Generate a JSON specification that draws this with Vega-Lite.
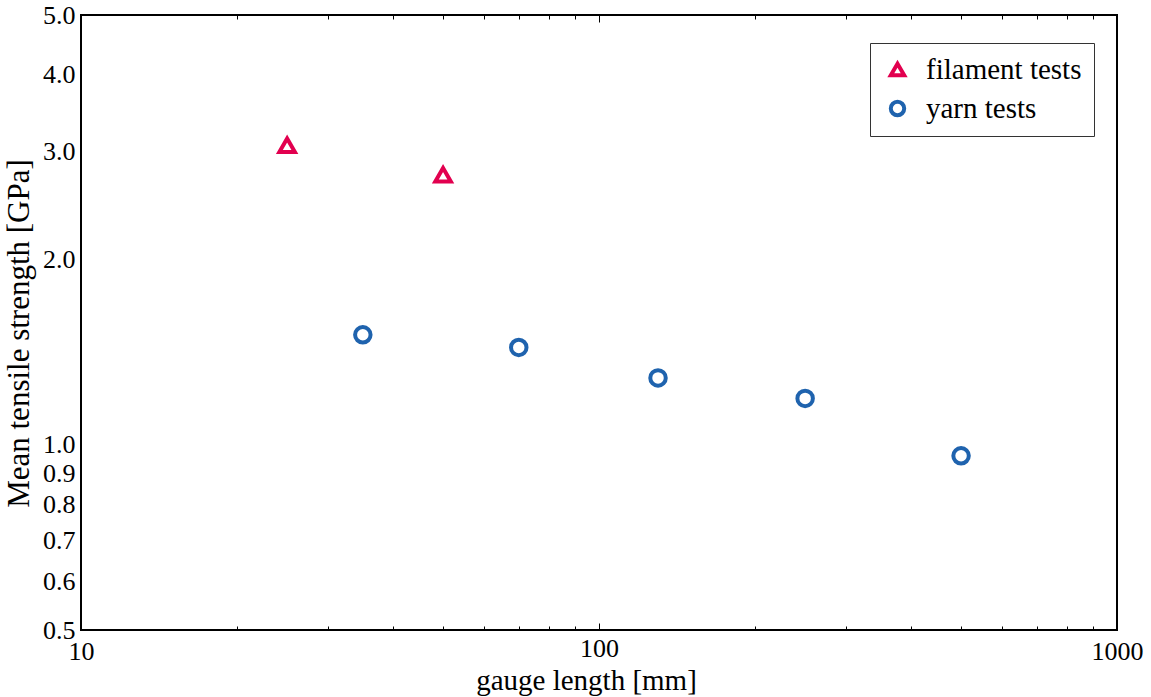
{
  "$schema": "https://vega.github.io/schema/vega-lite/v6.json",
  "autosize": {"type": "none"},
  "padding": {"left": 81, "top": 15, "right": 34, "bottom": 67},
  "width": 1036,
  "height": 615,
  "background": "white",
  "config": {
    "view": {"stroke": "black", "strokeWidth": 2},
    "font": "Liberation Serif"
  },
  "data": {
    "values": [
      {"gauge": 25, "strength": 3.07, "series": "filament tests"},
      {"gauge": 50, "strength": 2.75, "series": "filament tests"},
      {"gauge": 35, "strength": 1.51, "series": "yarn tests"},
      {"gauge": 70, "strength": 1.44, "series": "yarn tests"},
      {"gauge": 130, "strength": 1.285, "series": "yarn tests"},
      {"gauge": 250, "strength": 1.19, "series": "yarn tests"},
      {"gauge": 500, "strength": 0.96, "series": "yarn tests"}
    ]
  },
  "layer": [
    {
      "mark": {"type": "point", "filled": false, "strokeWidth": 4, "size": 240, "opacity": 1},
      "encoding": {
        "x": {
          "field": "gauge", "type": "quantitative",
          "scale": {"type": "log", "domain": [10, 1000], "nice": false},
          "axis": {
            "title": "gauge length [mm]",
            "titleFont": "Liberation Serif", "titleFontSize": 29, "titleFontWeight": "normal", "titleColor": "black", "titlePadding": 2,
            "titleX": 505,
            "values": [10, 20, 30, 40, 50, 60, 70, 80, 90, 100, 200, 300, 400, 500, 600, 700, 800, 900, 1000],
            "labelExpr": "(datum.value == 10 || datum.value == 100 || datum.value == 1000) ? datum.value : ''",
            "labelFont": "Liberation Serif", "labelFontSize": 26, "labelColor": "black", "labelPadding": 12,
            "labelFlush": false, "labelOverlap": false,
            "domain": false, "grid": false,
            "tickColor": "black", "tickWidth": 1,
            "tickSize": {"condition": {"test": "datum.value == 100", "value": -7}, "value": -4}
          }
        },
        "y": {
          "field": "strength", "type": "quantitative",
          "scale": {"type": "log", "domain": [0.5, 5.0], "nice": false},
          "axis": {
            "title": "Mean tensile strength [GPa]",
            "titleFont": "Liberation Serif", "titleFontSize": 31, "titleFontWeight": "normal", "titleColor": "black", "titlePadding": 7,
            "titleY": 318,
            "values": [0.5, 0.6, 0.7, 0.8, 0.9, 1.0, 2.0, 3.0, 4.0, 5.0],
            "format": ".1f",
            "labelFont": "Liberation Serif", "labelFontSize": 26, "labelColor": "black", "labelPadding": 6,
            "labelFlush": false, "labelOverlap": false,
            "domain": false, "grid": false, "ticks": false
          }
        },
        "shape": {
          "field": "series", "type": "nominal",
          "scale": {"domain": ["filament tests", "yarn tests"], "range": ["triangle-up", "circle"]},
          "legend": {
            "title": null, "orient": "none", "legendX": 789, "legendY": 28,
            "strokeColor": "#333333", "fillColor": "white",
            "padding": 12, "labelFont": "Liberation Serif", "labelFontSize": 29, "labelColor": "black",
            "labelOffset": 14, "symbolOffset": 1, "rowPadding": 8, "symbolSize": 180, "symbolStrokeWidth": 4,
            "labelLimit": 300,
            "encode": {"legend": {"update": {"strokeWidth": {"value": 1.5}}}}
          }
        },
        "stroke": {
          "field": "series", "type": "nominal",
          "scale": {"domain": ["filament tests", "yarn tests"], "range": ["#e2004f", "#1f63ae"]},
          "legend": null
        }
      }
    },
    {
      "mark": {"type": "point", "opacity": 0},
      "encoding": {
        "x": {
          "field": "gauge", "type": "quantitative",
          "scale": {"type": "log", "domain": [10, 1000], "nice": false},
          "axis": {
            "orient": "top", "title": null, "labels": false, "domain": false, "grid": false,
            "values": [20, 30, 40, 50, 60, 70, 80, 90, 100, 200, 300, 400, 500, 600, 700, 800, 900],
            "tickColor": "black", "tickWidth": 1,
            "tickSize": {"condition": {"test": "datum.value == 100", "value": -7}, "value": -4}
          }
        }
      }
    }
  ],
  "resolve": {"axis": {"x": "independent"}}
}
